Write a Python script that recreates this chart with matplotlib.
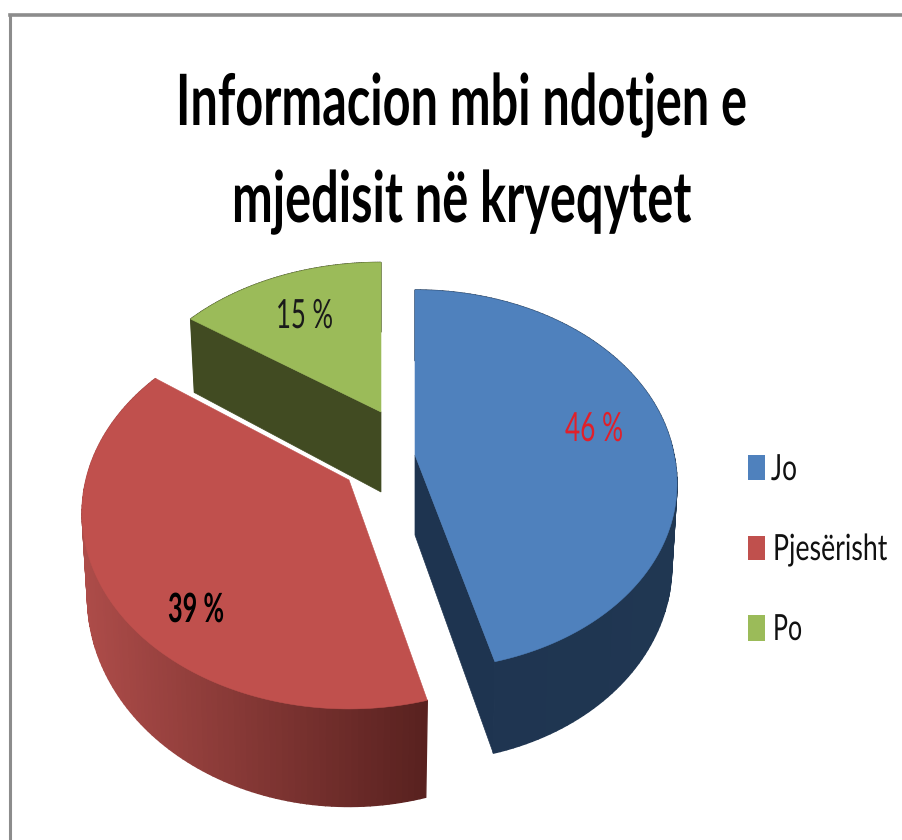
import numpy as np
import matplotlib
matplotlib.use("Agg")
import matplotlib.pyplot as plt
from matplotlib.patches import Polygon, Rectangle
from matplotlib.lines import Line2D
from matplotlib.patheffects import AbstractPathEffect
from matplotlib.transforms import Affine2D

title_lines = ["Informacion mbi ndotjen e", "mjedisit në kryeqytet"]
categories = ["Jo", "Pjesërisht", "Po"]
values = [46, 39, 15]
value_labels = ["46 %", "39 %", "15 %"]

top_colors = ["#4F81BD", "#C0504D", "#9BBB59"]
side_left = ["#1E3450", "#AD4C49", "#414B22"]
side_right = ["#203752", "#58211F", "#414B22"]
wall_colors = ["#1E3450", "#58211F", "#414B22"]
label_colors = ["#E0202A", "#000000", "#1A1A1A"]
label_weights = ["normal", "bold", "normal"]

# per-slice projection: apex on screen, radii, perspective, extrusion depth, lean
apex = [(415, 455), (349, 480), (381, 412)]
radii = [(259, 186.5), (263, 190), (256, 172)]
persp = [0.13, 0.17, 0.15]
depth = [80, 81, 80]
lean = [0.03, 0.0, 0.0]

FONT = ["Lato", "Liberation Sans", "DejaVu Sans"]

fig = plt.figure(figsize=(9.02, 8.4), dpi=100)
ax = fig.add_axes([0, 0, 1, 1])
ax.set_xlim(0, 902)
ax.set_ylim(840, 0)
ax.axis("off")
renderer = fig.canvas.get_renderer()


class Stretch(AbstractPathEffect):
    """Scale a text's glyphs about a fixed display position (pixels, y up)."""

    def __init__(self, sx, sy, x0, y0):
        super().__init__()
        self.sx, self.sy, self.x0, self.y0 = sx, sy, x0, y0

    def draw_path(self, renderer, gc, tpath, affine, rgbFace=None):
        extra = (Affine2D().translate(-self.x0, -self.y0)
                 .scale(self.sx, self.sy).translate(self.x0, self.y0))
        renderer.draw_path(gc, tpath, affine + extra, rgbFace)


def fitted_text(x_left, x_right, baseline, s, size, sy=1.0, **kw):
    """Real text whose glyphs span x_left..x_right on the given baseline."""
    xc = (x_left + x_right) / 2
    t = ax.text(xc, baseline, s, fontsize=size, family=FONT, ha="center",
                va="baseline", **kw)
    natural = t.get_window_extent(renderer).width
    t.set_path_effects([Stretch((x_right - x_left) / natural, sy, xc, 840 - baseline)])
    return t


def project(i, ang_deg):
    a = np.radians(ang_deg)
    X, Y = np.sin(a), np.cos(a)
    w = 1 + persp[i] * Y
    y = apex[i][1] - radii[i][1] * Y / w
    x = apex[i][0] + radii[i][0] * X / w + lean[i] * np.maximum(y - apex[i][1], 0)
    return x, y, w


def lower(i, x, y, w):
    return apex[i][0] + (x - apex[i][0]) * 0.98, y + depth[i] / w


edges = np.concatenate([[0], np.cumsum(values)]) * 3.6

for i in [2, 0, 1]:
    th = np.linspace(edges[i], edges[i + 1], 121)
    x, y, w = project(i, th)
    bx, by = lower(i, x, y, w)
    ax0, ay0 = apex[i]
    bax, bay = ax0, ay0 + depth[i]

    if i == 2:
        ax.add_patch(Polygon([(x[0], y[0]), (ax0, ay0), (bax, bay), (bx[0], by[0])],
                             fc=wall_colors[i], ec=wall_colors[i], lw=0.5, zorder=2))
    if i == 0:
        ax.add_patch(Polygon([(ax0, ay0), (x[-1], y[-1]), (bx[-1], by[-1]), (bax, bay)],
                             fc=wall_colors[i], ec=wall_colors[i], lw=0.5, zorder=3))

    c0 = np.array(matplotlib.colors.to_rgb(side_left[i]))
    c1 = np.array(matplotlib.colors.to_rgb(side_right[i]))
    xmin, xmax = x.min(), x.max()
    for j in range(len(th) - 1):
        t = ((x[j] + x[j + 1]) / 2 - xmin) / max(xmax - xmin, 1)
        col = c0 + (c1 - c0) * t
        ax.add_patch(Polygon([(x[j], y[j]), (x[j + 1], y[j + 1]),
                              (bx[j + 1], by[j + 1]), (bx[j], by[j])],
                             fc=col, ec=col, lw=1.0, zorder=3 + i))

    pts = np.vstack([[ax0, ay0], np.column_stack([x, y])])
    ax.add_patch(Polygon(pts, fc=top_colors[i], ec=top_colors[i], lw=0.4, zorder=4 + i))

label_span = [(565, 623, 441), (168, 224, 622), (276, 333, 328)]
for i in range(3):
    l, r, b = label_span[i]
    fitted_text(l, r, b, value_labels[i], 29, color=label_colors[i],
                fontweight=label_weights[i], zorder=10)

fitted_text(176, 748, 125, title_lines[0], 51, fontweight="bold", color="black")
fitted_text(232, 692, 222, title_lines[1], 51, fontweight="bold", color="black")

legend_box = [(455, 25), (536, 24), (615, 26)]
legend_span = [(771, 797, 480), (773, 887, 560), (773, 802, 640)]
for i in range(3):
    ax.add_patch(Rectangle((748, legend_box[i][0]), 17, legend_box[i][1],
                           fc=top_colors[i], ec="none"))
    l, r, b = legend_span[i]
    fitted_text(l, r, b, categories[i], 22, sy=26 / 22, color="#111111")

ax.add_line(Line2D([9.5, 9.5], [840, 15], color="#8C8C8C", lw=2.2, solid_capstyle="projecting"))
ax.add_line(Line2D([9.5, 902], [15, 15], color="#8C8C8C", lw=2.6, solid_capstyle="projecting"))

fig.savefig("out.png", dpi=100)
